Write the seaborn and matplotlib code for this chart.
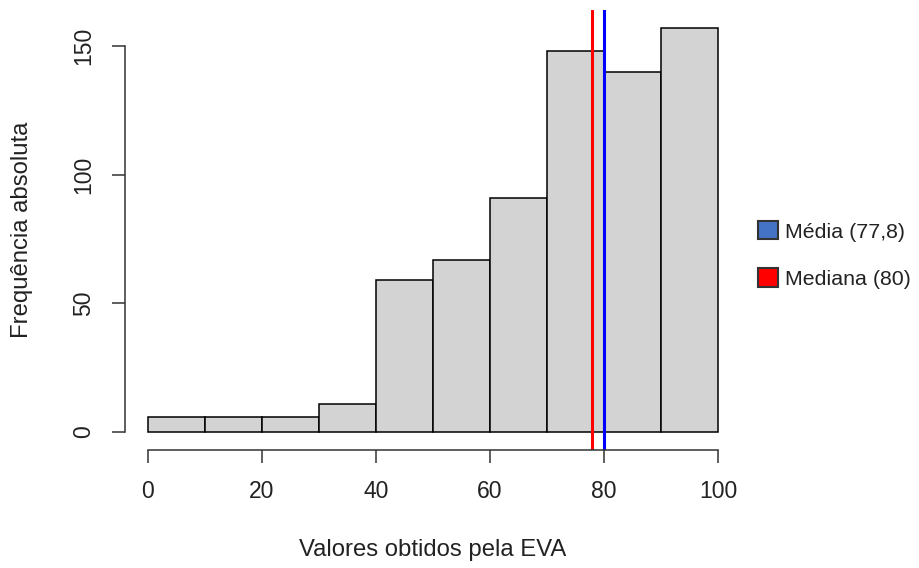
# import libraries
import numpy as np
import matplotlib
matplotlib.use('Agg')
import matplotlib.pyplot as plt
from matplotlib.patches import Patch
import seaborn as sns

# histogram data
bin_edges = [0, 10, 20, 30, 40, 50, 60, 70, 80, 90, 100]
counts = [6, 6, 6, 11, 59, 67, 91, 148, 140, 157]
mean_val = 77.8
median_val = 80
x_ticks = [0, 20, 40, 60, 80, 100]
y_ticks = [0, 50, 100, 150]
legend_labels = ['Média (77,8)', 'Mediana (80)']
legend_colors = ['#4472C4', '#FF0000']

# bin midpoints used as weighted samples
mids = [(a + b) / 2 for a, b in zip(bin_edges[:-1], bin_edges[1:])]

sns.set_style('white')
plt.rcParams['font.family'] = ['Liberation Sans', 'DejaVu Sans']
text_col = '#222222'

fig = plt.figure(figsize=(9.2, 5.68), dpi=100)
ax = fig.add_axes([125 / 920, 1 - 450 / 568, 616 / 920, 440 / 568])

# histogram bars
sns.histplot(x=mids, weights=counts, bins=bin_edges, ax=ax,
             color='#D3D3D3', edgecolor='black', linewidth=1.1, alpha=1)

# reference lines (as drawn in the original)
ax.axvline(mean_val, color='red', linewidth=2.2)
ax.axvline(median_val, color='blue', linewidth=2.2)

# R-like axes
ax.set_xlim(-4, 104)
ax.set_ylim(-7, 164)
for side in ['top', 'right']:
    ax.spines[side].set_visible(False)
ax.spines['left'].set_bounds(0, 150)
ax.spines['bottom'].set_bounds(0, 100)
for side in ['left', 'bottom']:
    ax.spines[side].set_color('#333333')
    ax.spines[side].set_linewidth(1.1)

ax.set_xticks(x_ticks)
ax.set_yticks(y_ticks)
ax.set_yticklabels([str(v) for v in y_ticks], rotation=90, va='center')
ax.tick_params(axis='both', direction='out', length=9.5, width=1.1,
               color='#333333', labelsize=16.5, labelcolor=text_col,
               left=True, bottom=True)
ax.tick_params(axis='x', pad=12)
ax.tick_params(axis='y', pad=12)

# axis labels
ax.set_xlabel('Valores obtidos pela EVA', fontsize=17.2, color=text_col, va='center')
ax.set_ylabel('Frequência absoluta', fontsize=17.2, color=text_col, va='center')
ax.xaxis.set_label_coords(0.5, (450 - 550) / 440)
ax.yaxis.set_label_coords((22 - 125) / 616, 0.5)

# legend outside on the right
handles = [Patch(facecolor=c, edgecolor='#333333', linewidth=1.5) for c in legend_colors]
fig.legend(handles, legend_labels, loc='center left',
           bbox_to_anchor=(747 / 920, 1 - 255 / 568), frameon=False,
           fontsize=15.4, labelcolor=text_col, handlelength=0.93, handleheight=0.93,
           handletextpad=0.35, labelspacing=1.25, borderpad=0)

plt.savefig('out.png', dpi=100)
